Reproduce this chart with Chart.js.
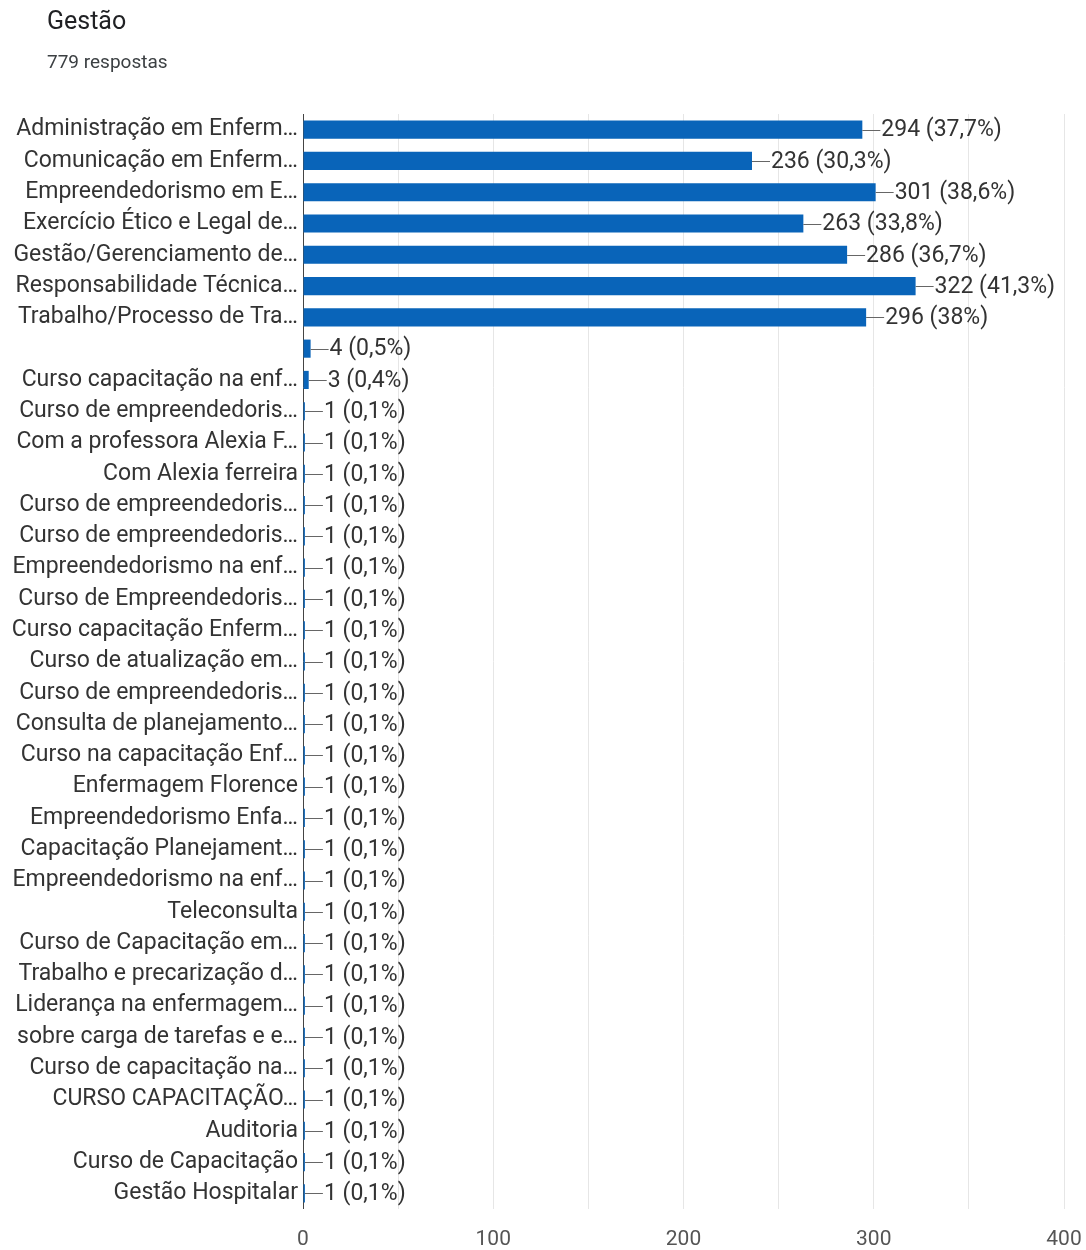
<!DOCTYPE html>
<html>
<head>
<meta charset="utf-8">
<script src="https://cdn.jsdelivr.net/npm/chart.js@4.4.1/dist/chart.umd.min.js"></script>
<style>
  html, body { margin: 0; padding: 0; background: #fff; }
  body { width: 1086px; height: 1250px; position: relative; overflow: hidden; font-family: Roboto, "Noto Sans", sans-serif; }
  #title { position: absolute; left: 47px; top: 6px; font-size: 25px; color: #202124; }
  #sub { position: absolute; left: 47px; top: 50px; font-size: 19px; color: #3c4043; }
  #wrap { position: absolute; left: 0; top: 0; width: 1086px; height: 1250px; }
</style>
</head>
<body>
<div id="wrap"><canvas id="chart"></canvas></div>
<div id="title">Gestão</div>
<div id="sub">779 respostas</div>
<script>
// categories (already truncated as shown in the form summary)
const categories = [
    "Administração em Enferm…",
    "Comunicação em Enferm…",
    "Empreendedorismo em E…",
    "Exercício Ético e Legal de…",
    "Gestão/Gerenciamento de…",
    "Responsabilidade Técnica…",
    "Trabalho/Processo de Tra…",
    "",
    "Curso capacitação na enf…",
    "Curso de empreendedoris…",
    "Com a professora Alexia F…",
    "Com Alexia ferreira",
    "Curso de empreendedoris…",
    "Curso de empreendedoris…",
    "Empreendedorismo na enf…",
    "Curso de Empreendedoris…",
    "Curso capacitação Enferm…",
    "Curso de atualização em…",
    "Curso de empreendedoris…",
    "Consulta de planejamento…",
    "Curso na capacitação Enf…",
    "Enfermagem Florence",
    "Empreendedorismo Enfa…",
    "Capacitação Planejament…",
    "Empreendedorismo na enf…",
    "Teleconsulta",
    "Curso de Capacitação em…",
    "Trabalho e precarização d…",
    "Liderança na enfermagem…",
    "sobre carga de tarefas e e…",
    "Curso de capacitação na…",
    "CURSO CAPACITAÇÃO…",
    "Auditoria",
    "Curso de Capacitação",
    "Gestão Hospitalar"
];

const counts = [294, 236, 301, 263, 286, 322, 296, 4, 3,
    1, 1, 1, 1, 1, 1, 1, 1, 1, 1, 1, 1, 1, 1, 1, 1, 1, 1, 1, 1, 1, 1, 1, 1, 1, 1];

const percents = ["37,7%", "30,3%", "38,6%", "33,8%", "36,7%", "41,3%", "38%", "0,5%", "0,4%",
    "0,1%", "0,1%", "0,1%", "0,1%", "0,1%", "0,1%", "0,1%", "0,1%", "0,1%", "0,1%", "0,1%", "0,1%",
    "0,1%", "0,1%", "0,1%", "0,1%", "0,1%", "0,1%", "0,1%", "0,1%", "0,1%", "0,1%", "0,1%", "0,1%",
    "0,1%", "0,1%"];

const xTicks = [0, 100, 200, 300, 400];

// value labels with the little connector line
const valueLabels = {
    id: "valueLabels",
    afterDatasetsDraw(chart) {
        const ctx = chart.ctx;
        const meta = chart.getDatasetMeta(0);
        ctx.save();
        ctx.font = "23px Roboto";
        ctx.fillStyle = "#333";
        ctx.textBaseline = "middle";
        ctx.strokeStyle = "#666";
        ctx.lineWidth = 1;
        meta.data.forEach((bar, i) => {
            const x = bar.x, y = Math.round(bar.y) + 0.5;
            ctx.beginPath();
            ctx.moveTo(x, y);
            ctx.lineTo(x + 18, y);
            ctx.stroke();
            ctx.fillText(counts[i] + " (" + percents[i] + ")", x + 19, bar.y + 1);
        });
        ctx.restore();
    }
};

new Chart(document.getElementById("chart"), {
    type: "bar",
    data: {
        labels: categories,
        datasets: [{
            data: counts,
            backgroundColor: "#0964b9",
            borderWidth: 0,
            barPercentage: 0.58,
            categoryPercentage: 1
        }]
    },
    options: {
        indexAxis: "y",
        responsive: true,
        maintainAspectRatio: false,
        animation: false,
        layout: { padding: { top: 114, right: 22, left: 0, bottom: 0 } },
        plugins: {
            legend: { display: false },
            tooltip: { enabled: false }
        },
        scales: {
            x: {
                min: 0,
                max: 400,
                afterBuildTicks: (scale) => {
                    scale.ticks = [0, 50, 100, 150, 200, 250, 300, 350, 400].map(v => ({ value: v }));
                },
                ticks: {
                    autoSkip: false,
                    maxRotation: 0,
                    padding: 18,
                    color: "#555",
                    font: { family: "Roboto", size: 21 },
                    callback: (v) => xTicks.includes(v) ? String(v) : ""
                },
                grid: {
                    color: (c) => c.tick && c.tick.value === 0 ? "#444" : "#e6e6e6",
                    drawTicks: false
                },
                border: { display: false },
                afterFit: (scale) => {
                    scale.height = 41;
                    scale.paddingLeft = 0;
                    scale.paddingRight = 0;
                }
            },
            y: {
                ticks: {
                    autoSkip: false,
                    padding: 5,
                    color: "#333",
                    font: { family: "Roboto", size: 23 }
                },
                grid: { display: false, drawTicks: false },
                border: { display: false },
                afterFit: (scale) => {
                    scale.width = 303;
                    scale.paddingTop = 0;
                    scale.paddingBottom = 0;
                }
            }
        }
    },
    plugins: [valueLabels]
});
</script>
</body>
</html>
